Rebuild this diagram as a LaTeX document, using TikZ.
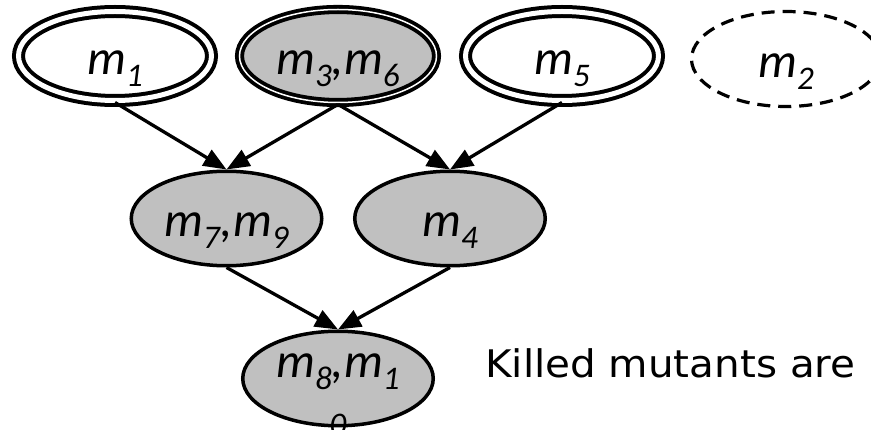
\documentclass[tikz,border=0pt]{standalone}
\usepackage{fontspec}
\setmainfont{Carlito}
\newfontfamily\notefont{DejaVu Sans}
\usetikzlibrary{shapes.geometric,arrows.meta}

\definecolor{shade}{HTML}{C0C0C0}

% italic m with a lowered, smaller index
\newcommand{\msub}[1]{\textit{m}\raisebox{-12pt}{\fontsize{33}{33}\selectfont\textit{#1}}}

\begin{document}
\begin{tikzpicture}[x=1pt,y=-1pt,
  mutant/.style={ellipse, inner sep=0pt, line width=3.5pt, draw=black},
  topnode/.style={mutant, line width=4pt, minimum width=193pt, minimum height=89pt,
                  double=white, double distance=5pt},
  topshaded/.style={mutant, line width=3.8pt, minimum width=197pt, minimum height=93pt,
                  fill=shade, double=white, double distance=1.5pt},
  livenode/.style={ellipse, inner sep=0pt, line width=3.2pt, draw=black,
                  dash pattern=on 13pt off 8pt,
                  minimum width=189pt, minimum height=95pt},
  midnode/.style={mutant, fill=shade, minimum width=190.5pt, minimum height=94.5pt},
  lbl/.style={font=\fontsize{49}{49}\selectfont, inner sep=0pt, anchor=base},
  subl/.style={font=\fontsize{33}{33}\selectfont\itshape, inner sep=0pt, anchor=base},
  arr/.style={line width=3.3pt, -{Triangle[length=23pt,width=18pt]}}
]
\useasboundingbox (0,0) rectangle (871,430);

% top row
\node[topnode]   (m1)  at (115,56) {};
\node[topshaded] (m36) at (338,56) {};
\node[topnode]   (m5)  at (562,56) {};
\node[livenode]  (m2)  at (786,59) {};

% middle row and bottom
\node[midnode] (m79) at (226.5,218.5) {};
\node[midnode] (m4)  at (450,218.5) {};
\node[midnode] (m810) at (338,378.5) {};

% labels
\node[lbl] (t1)  at (115,75) {\msub{1}};
\node[lbl] (t36) at (338,75) {\msub{3}\textit{,}\msub{6}};
\node[lbl] (t5)  at (562,75) {\msub{5}};
\node[lbl] (t2)  at (786,78) {\msub{2}};
\node[lbl] (t79) at (226.5,237) {\msub{7}\textit{,}\msub{9}};
\node[lbl] (t4)  at (450,237) {\msub{4}};
\node[lbl] (t810) at (338,378) {\msub{8}\textit{,}\msub{1}};
\node[subl] (t810b) at (338,436) {0};

% edges
\draw[arr] (m1.south)  -- (m79.north);
\draw[arr] (m36.south) -- (m79.north);
\draw[arr] (m36.south) -- (m4.north);
\draw[arr] (m5.south)  -- (m4.north);
\draw[arr] (m79.south) -- (m810.north);
\draw[arr] (m4.south)  -- (m810.north);

% side note
\node[anchor=base west, font=\notefont\fontsize{38}{38}\selectfont, inner sep=0pt]
  (note) at (485,378) {\scalebox{1.065}[1]{Killed mutants are}};
\end{tikzpicture}
\end{document}
